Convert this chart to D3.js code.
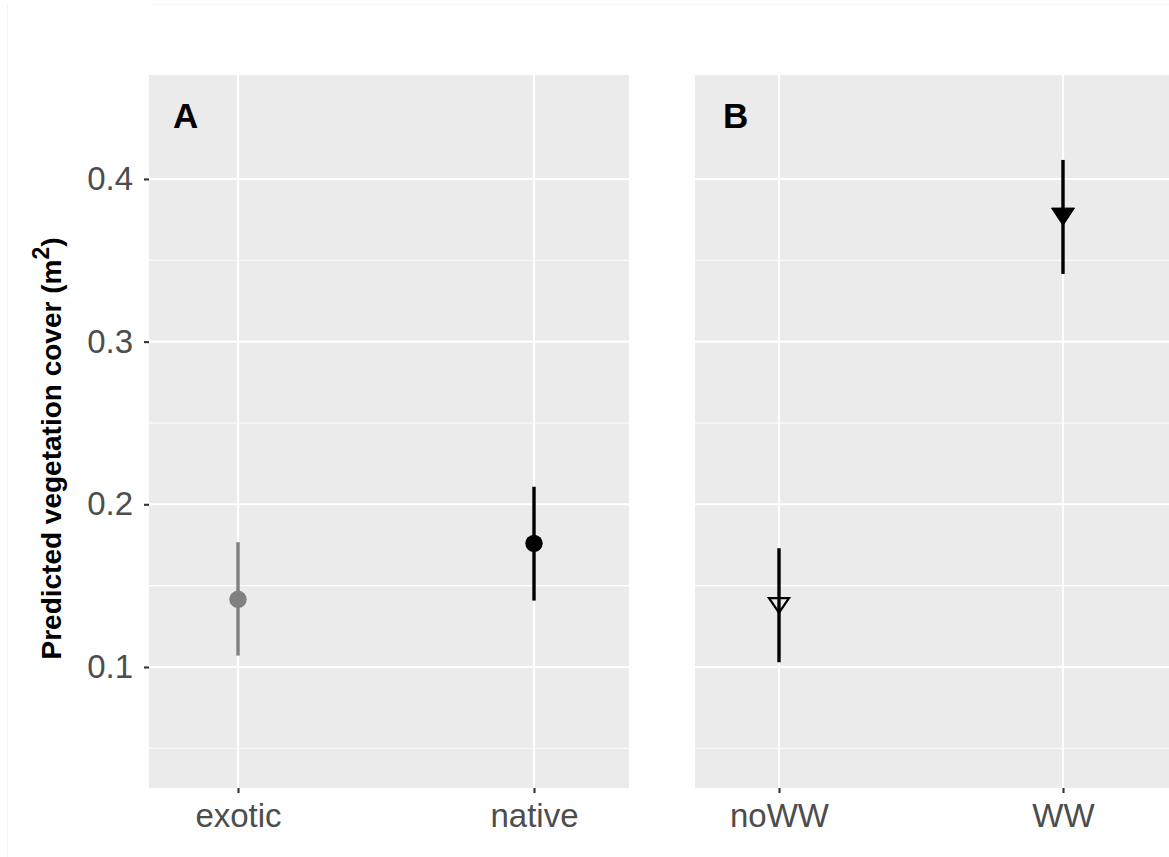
<!DOCTYPE html>
<html>
<head>
<meta charset="utf-8">
<script src="https://cdn.jsdelivr.net/npm/d3@7"></script>
<style>
  html, body { margin: 0; padding: 0; background: #ffffff; }
  svg { display: block; }
</style>
</head>
<body>
<script>
// ---- Data ----
const panelLabels = ["A", "B"];
const catsA = ["exotic", "native"];
const estA = [0.1416, 0.1760];
const lowA = [0.1070, 0.1408];
const highA = [0.1767, 0.2108];

const catsB = ["noWW", "WW"];
const estB = [0.1393, 0.3785];
const lowB = [0.1029, 0.3416];
const highB = [0.1730, 0.4117];

const yMajor = [0.1, 0.2, 0.3, 0.4];
const yMinor = [0.05, 0.15, 0.25, 0.35];
const yDomain = [0.0256, 0.4639];
const yTitle = "Predicted vegetation cover (m";

// ---- Layout ----
const W = 1169, H = 857;
const plotTop = 75, plotBottom = 788;
const panels = [
  { x0: 149, w: 480, inner: [89, 385], cats: catsA, est: estA, low: lowA, high: highA, label: panelLabels[0], showY: true },
  { x0: 695, w: 480, inner: [84, 368], cats: catsB, est: estB, low: lowB, high: highB, label: panelLabels[1], showY: false }
];

const svg = d3.select("body").append("svg")
  .attr("width", W).attr("height", H)
  .style("font-family", "'Liberation Sans', Arial, Helvetica, sans-serif");

// faint outer frame lines seen in the reference
svg.append("line").attr("x1", 7.5).attr("x2", 7.5).attr("y1", 4).attr("y2", H)
  .attr("stroke", "#f4f4f4").attr("stroke-width", 1.2);
svg.append("line").attr("x1", 150).attr("x2", W).attr("y1", 4.5).attr("y2", 4.5)
  .attr("stroke", "#f7f7f7").attr("stroke-width", 1.2);

const y = d3.scaleLinear().domain(yDomain).range([plotBottom, plotTop]);

panels.forEach((p, pi) => {
  const g = svg.append("g").attr("transform", `translate(${p.x0},0)`);
  const x = d3.scalePoint().domain(p.cats).range(p.inner);

  g.append("rect").attr("x", 0).attr("y", plotTop).attr("width", p.w).attr("height", plotBottom - plotTop)
    .attr("fill", "#ebebeb");

  // minor grid
  g.selectAll(".minor").data(yMinor).join("line").attr("class", "minor")
    .attr("x1", 0).attr("x2", p.w)
    .attr("y1", d => y(d)).attr("y2", d => y(d))
    .attr("stroke", "#ffffff").attr("stroke-width", 1.1);
  // major grid
  g.selectAll(".major").data(yMajor).join("line").attr("class", "major")
    .attr("x1", 0).attr("x2", p.w)
    .attr("y1", d => y(d)).attr("y2", d => y(d))
    .attr("stroke", "#ffffff").attr("stroke-width", 2.1);
  g.selectAll(".vgrid").data(p.cats).join("line").attr("class", "vgrid")
    .attr("x1", d => x(d)).attr("x2", d => x(d))
    .attr("y1", plotTop).attr("y2", plotBottom)
    .attr("stroke", "#ffffff").attr("stroke-width", 2.1);

  // x axis
  const xAxis = d3.axisBottom(x).tickSize(5).tickPadding(11);
  const xa = g.append("g").attr("transform", `translate(0,${plotBottom})`).call(xAxis);
  xa.select(".domain").remove();
  xa.selectAll(".tick line").attr("stroke", "#333333").attr("stroke-width", 2.1);
  xa.selectAll(".tick text").attr("fill", "#4d4d4d").style("font-size", "33px")
    .style("font-family", "'Liberation Sans', Arial, sans-serif");

  // y axis (only first panel)
  if (p.showY) {
    const yAxis = d3.axisLeft(y).tickValues(yMajor).tickFormat(d3.format(".1f")).tickSize(5).tickPadding(11);
    const ya = g.append("g").call(yAxis);
    ya.select(".domain").remove();
    ya.selectAll(".tick line").attr("stroke", "#333333").attr("stroke-width", 2.1);
    ya.selectAll(".tick text").attr("fill", "#4d4d4d").style("font-size", "33px")
      .style("font-family", "'Liberation Sans', Arial, sans-serif");
  }

  // panel label
  g.append("text").attr("x", pi === 0 ? 24 : 28).attr("y", 128)
    .attr("font-size", 35).attr("font-weight", "bold").attr("fill", "#000")
    .text(p.label);

  // error bars
  const barColor = (i) => (pi === 0 && i === 0) ? "#808080" : "#000000";
  p.cats.forEach((c, i) => {
    g.append("line")
      .attr("x1", x(c)).attr("x2", x(c))
      .attr("y1", y(p.low[i])).attr("y2", y(p.high[i]))
      .attr("stroke", barColor(i)).attr("stroke-width", 3.4);
  });

  // points
  p.cats.forEach((c, i) => {
    const cx = x(c), cy = y(p.est[i]);
    if (pi === 0) {
      g.append("circle").attr("cx", cx).attr("cy", cy).attr("r", 8.7)
        .attr("fill", barColor(i));
    } else {
      const hw = i === 0 ? 10 : 11.5;
      const hh = i === 0 ? 14.5 : 17.5;
      const path = `M${cx - hw},${cy - hh / 3} L${cx + hw},${cy - hh / 3} L${cx},${cy + 2 * hh / 3} Z`;
      if (i === 0) {
        g.append("path").attr("d", path).attr("fill", "none")
          .attr("stroke", "#000").attr("stroke-width", 2.2).attr("stroke-linejoin", "miter");
      } else {
        g.append("path").attr("d", path).attr("fill", "#000")
          .attr("stroke", "#000").attr("stroke-width", 1);
      }
    }
  });
});

// y axis title
const yt = svg.append("text")
  .attr("transform", `translate(61,${(plotTop + plotBottom) / 2 + 17}) rotate(-90)`)
  .attr("text-anchor", "middle")
  .attr("font-size", 28).attr("font-weight", "bold").attr("fill", "#000");
yt.append("tspan").text(yTitle);
yt.append("tspan").attr("dy", -12).attr("font-size", 23).text("2");
yt.append("tspan").attr("dy", 12).text(")");
</script>
</body>
</html>
